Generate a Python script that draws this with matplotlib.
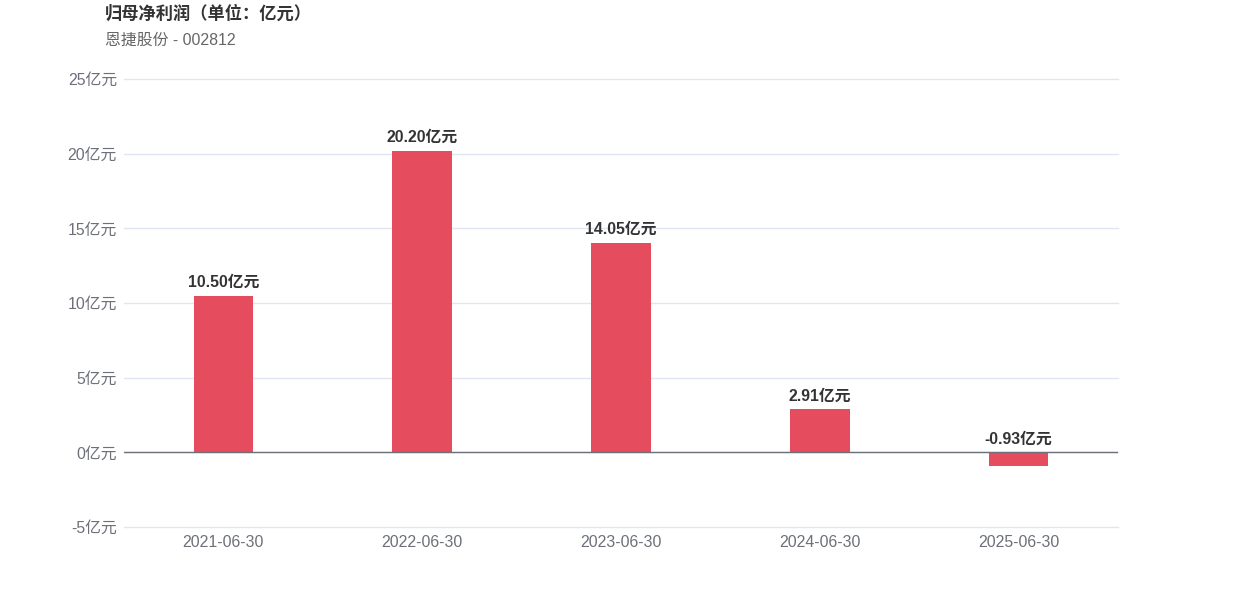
import matplotlib
matplotlib.use("Agg")
import matplotlib.pyplot as plt

plt.rcParams['font.family'] = ['Liberation Sans', 'Noto Sans CJK SC', 'DejaVu Sans']

dates = ["2021-06-30", "2022-06-30", "2023-06-30", "2024-06-30", "2025-06-30"]
profit = [10.50, 20.20, 14.05, 2.91, -0.93]
yticks = [-5, 0, 5, 10, 15, 20, 25]

bar_color = "#E54C5E"
tick_color = "#6E7079"

fig = plt.figure(figsize=(12.42, 5.96), dpi=100)
ax = fig.add_axes([124 / 1242, 69 / 596, 994 / 1242, 448 / 596])

x = range(len(dates))
ax.bar(x, profit, width=0.30, color=bar_color, zorder=3)

for i, v in enumerate(profit):
    top = max(v, 0)
    ax.annotate(f"{v:.2f}亿元", (i, top), xytext=(0, 4), textcoords="offset points",
                ha="center", va="bottom", fontsize=11.4, fontweight="bold", color="#333333")

ax.set_xlim(-0.5, len(dates) - 0.5)
ax.set_ylim(-5, 25)
ax.set_yticks(yticks)
ax.set_yticklabels([f"{t}亿元" for t in yticks])
ax.set_xticks(list(x))
ax.set_xticklabels(dates)
ax.tick_params(axis="both", length=0, labelsize=11.4, colors=tick_color)
ax.tick_params(axis="y", pad=5)
ax.tick_params(axis="x", pad=6)

ax.grid(axis="y", color="#E0E6F1", linewidth=1, zorder=0)
for gl in ax.get_ygridlines():
    gl.set_clip_on(False)
ax.axhline(0, color=tick_color, linewidth=1, zorder=4)
for s in ax.spines.values():
    s.set_visible(False)

fig.text(105 / 1242, 1 - 13 / 596, "归母净利润（单位：亿元）", fontsize=12.4, fontweight="bold",
         color="#333333", va="center", ha="left")
fig.text(105 / 1242, 1 - 40 / 596, "恩捷股份 - 002812", fontsize=11.4,
         color="#666666", va="center", ha="left")

fig.savefig("out.png", dpi=100)
